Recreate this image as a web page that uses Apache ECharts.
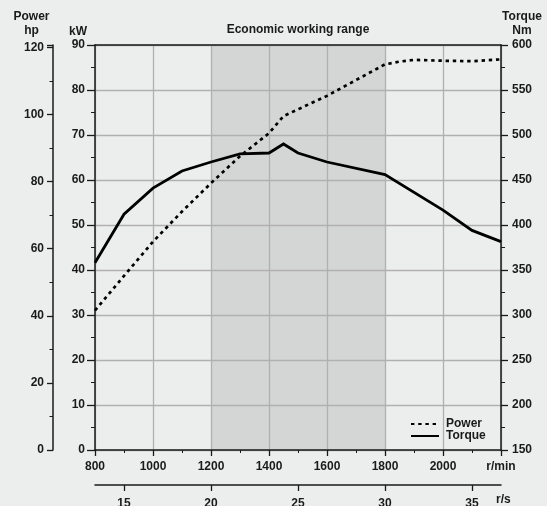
<!DOCTYPE html>
<html>
<head>
<meta charset="utf-8">
<script src="https://cdn.jsdelivr.net/npm/echarts@6/dist/echarts.min.js"></script>
<style>
  html, body { margin: 0; padding: 0; background: #eceeed; }
  #chart { width: 547px; height: 506px; }
</style>
</head>
<body>
<div id="chart"></div>
<script>
// ---- data ----
const powerRpm = [800, 900, 1000, 1100, 1200, 1300, 1400, 1450, 1600, 1800, 1850, 1900, 2000, 2100, 2200];
const powerKw  = [31, 38.7, 46.3, 53, 59.3, 65.3, 70.4, 74.2, 78.7, 85.7, 86.3, 86.7, 86.5, 86.4, 86.8];
const torqueRpm = [800, 900, 1000, 1100, 1200, 1300, 1400, 1450, 1500, 1600, 1800, 2000, 2100, 2200];
const torqueNm  = [358, 412, 441, 460, 470, 479, 480, 490, 480, 470, 456, 416.5, 394, 381.5];
const rsTicks = [15, 20, 25, 30, 35];
const economicRange = [1200, 1800];
const rpmRange = [800, 2200];
const kwRange = [0, 90];
const nmRange = [150, 600];
const KW_PER_HP = 0.745699872;

const ink = '#1a1a1a';
const font = 'Liberation Sans, Arial, Helvetica, sans-serif';
const lbl = { color: ink, fontWeight: 'bold', fontSize: 12, fontFamily: font };
const axLine = { show: true, onZero: false, lineStyle: { color: ink, width: 1.5 } };
const gridLine = { show: true, lineStyle: { color: '#b0b0b0', width: 1.3 } };

const chart = echarts.init(document.getElementById('chart'));
chart.setOption({
  backgroundColor: '#eceeed',
  animation: false,
  grid: { left: 95, right: 46, top: 45, bottom: 56, containLabel: false, outerBoundsMode: 'none' },
  legend: {
    orient: 'vertical', left: 405, top: 413, itemWidth: 28, itemHeight: 10, itemGap: 0,
    itemStyle: { color: 'transparent', borderColor: 'transparent', borderWidth: 0, opacity: 0 },
    textStyle: Object.assign({}, lbl, { padding: [0, 0, 0, 2] }),
    data: ['Power', 'Torque']
  },
  xAxis: [
    {
      type: 'value', min: rpmRange[0], max: rpmRange[1], interval: 200, z: 1.5,
      axisLine: axLine,
      axisTick: { show: true, length: 6, lineStyle: { color: ink, width: 1.3 } },
      minorTick: { show: true, splitNumber: 2, length: 3, lineStyle: { color: ink, width: 1 } },
      axisLabel: Object.assign({}, lbl, { margin: 11, formatter: v => v === rpmRange[1] ? 'r/min' : String(v) }),
      splitLine: gridLine
    },
    {
      type: 'value', position: 'bottom', offset: 35, z: 1.5,
      min: rpmRange[0] / 60, max: rpmRange[1] / 60,
      axisLine: axLine,
      axisTick: { show: true, length: 6, customValues: rsTicks, lineStyle: { color: ink, width: 1.3 } },
      axisLabel: Object.assign({}, lbl, { margin: 13, customValues: rsTicks }),
      splitLine: { show: false },
      name: 'r/s', nameLocation: 'end', nameGap: -5,
      nameTextStyle: Object.assign({}, lbl, { verticalAlign: 'top', padding: [9, 0, 0, 0] })
    },
    {
      type: 'value', position: 'top', min: rpmRange[0], max: rpmRange[1], z: 1.5,
      axisLine: axLine, axisTick: { show: false }, axisLabel: { show: false }, splitLine: { show: false }
    }
  ],
  yAxis: [
    {
      type: 'value', min: kwRange[0], max: kwRange[1], interval: 10, position: 'left', z: 1.5,
      axisLine: axLine,
      axisTick: { show: true, length: 8, lineStyle: { color: ink, width: 1.3 } },
      minorTick: { show: true, splitNumber: 2, length: 4, lineStyle: { color: ink, width: 1 } },
      axisLabel: Object.assign({}, lbl, { margin: 10 }),
      splitLine: gridLine,
      name: 'kW', nameLocation: 'end', nameGap: 7,
      nameTextStyle: Object.assign({}, lbl, { align: 'center', padding: [0, 34, 0, 0] })
    },
    {
      type: 'value', min: nmRange[0], max: nmRange[1], interval: 50, position: 'right', z: 1.5,
      axisLine: axLine,
      axisTick: { show: true, length: 7, lineStyle: { color: ink, width: 1.3 } },
      minorTick: { show: true, splitNumber: 2, length: 4, lineStyle: { color: ink, width: 1 } },
      axisLabel: Object.assign({}, lbl, { margin: 11 }),
      splitLine: { show: false },
      name: 'Torque\nNm', nameLocation: 'end', nameGap: 7,
      nameTextStyle: Object.assign({}, lbl, { align: 'center', lineHeight: 14, padding: [0, 0, 0, 42] })
    },
    {
      type: 'value', min: 0, max: kwRange[1] / KW_PER_HP, interval: 20, position: 'left', offset: 42, z: 1.5,
      axisLine: axLine,
      axisTick: { show: true, length: 6, lineStyle: { color: ink, width: 1.3 } },
      minorTick: { show: true, splitNumber: 2, length: 3.5, lineStyle: { color: ink, width: 1 } },
      axisLabel: Object.assign({}, lbl, { margin: 9, formatter: v => (Math.abs(v % 20) < 1e-6 ? String(v) : '') }),
      splitLine: { show: false },
      name: 'Power\nhp', nameLocation: 'end', nameGap: 7,
      nameTextStyle: Object.assign({}, lbl, { align: 'center', lineHeight: 14, padding: [0, 43, 0, 0] })
    }
  ],
  series: [
    {
      name: 'Power', type: 'line', xAxisIndex: 0, yAxisIndex: 0,
      symbol: 'none', smooth: false, z: 3,
      lineStyle: { color: '#000', width: 2.7, type: [3.4, 3.8], cap: 'butt' },
      itemStyle: { color: '#000' },
      data: powerRpm.map((r, i) => [r, powerKw[i]]),
      markArea: {
        silent: true,
        itemStyle: { color: '#d4d6d5' },
        label: { show: true, position: 'top', distance: 9, color: ink, fontWeight: 'bold', fontSize: 12, fontFamily: font },
        data: [[{ name: 'Economic working range', xAxis: economicRange[0], yAxis: kwRange[1] }, { xAxis: economicRange[1], yAxis: kwRange[0] }]]
      }
    },
    {
      name: 'Torque', type: 'line', xAxisIndex: 0, yAxisIndex: 1,
      symbol: 'none', smooth: false, z: 3,
      lineStyle: { color: '#000', width: 2.8, join: 'miter' },
      itemStyle: { color: '#000' },
      data: torqueRpm.map((r, i) => [r, torqueNm[i]])
    }
  ]
});
</script>
</body>
</html>
